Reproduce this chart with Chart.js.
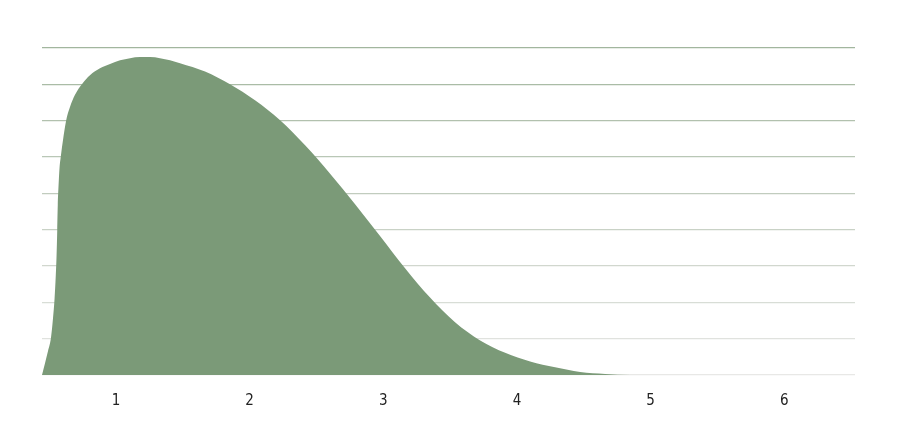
<!DOCTYPE html>
<html>
<head>
<meta charset="utf-8">
<script src="https://cdn.jsdelivr.net/npm/chart.js@4"></script>
<style>
  html, body { margin: 0; padding: 0; background: #fff; }
  #wrap { width: 897px; height: 436px; position: relative; }
</style>
</head>
<body>
<div id="wrap"><canvas id="areaChart"></canvas></div>
<script>
// curve (x value, height in grid units)
const xValues = [0.446, 0.469, 0.491, 0.513, 0.528, 0.54, 0.549, 0.555, 0.56, 0.564, 0.57, 0.577,
  0.588, 0.603, 0.626, 0.656, 0.693, 0.746, 0.805, 0.88, 0.955, 1.03, 1.105, 1.18, 1.254, 1.329,
  1.404, 1.479, 1.666, 1.853, 2.04, 2.228, 2.415, 2.602, 2.789, 2.977, 3.163, 3.35, 3.537, 3.725,
  3.912, 4.099, 4.286, 4.473, 4.66, 4.847, 6.53];
const yValues = [0, 0.33, 0.66, 1.02, 1.55, 2.1, 2.73, 3.29, 3.98, 4.67, 5.22, 5.69,
  6.05, 6.46, 6.99, 7.38, 7.71, 8.01, 8.25, 8.44, 8.56, 8.66, 8.72, 8.75, 8.75, 8.72,
  8.66, 8.58, 8.35, 8.0, 7.56, 7.01, 6.32, 5.54, 4.7, 3.82, 2.94, 2.13, 1.45, 0.95,
  0.61, 0.37, 0.21, 0.08, 0.03, 0, 0];
const tickLabels = [1, 2, 3, 4, 5, 6];

const points = xValues.map((x, i) => ({ x: x, y: yValues[i] }));

const areaChart = document.getElementById("areaChart");

new Chart(areaChart, {
    type: "line",
    data: {
        datasets: [
            {
                data: points,
                fill: "origin",
                backgroundColor: "rgb(123, 154, 120)",
                borderWidth: 0,
                pointRadius: 0,
                cubicInterpolationMode: "monotone",
            },
        ],
    },
    options: {
        animation: false,
        responsive: true,
        maintainAspectRatio: false,
        layout: {
            padding: { left: 42, right: 42, top: 48, bottom: 17 },
        },
        scales: {
            x: {
                type: "linear",
                min: 0.446,
                max: 6.53,
                grid: { display: false },
                border: { display: false },
                afterBuildTicks: (scale) => {
                    scale.ticks = tickLabels.map((v) => ({ value: v }));
                },
                ticks: {
                    padding: 9,
                    color: "#222",
                    font: { family: "'DejaVu Sans Condensed', 'DejaVu Sans', sans-serif", size: 15 },
                    callback: (v) => String(v),
                },
            },
            y: {
                min: 0,
                max: 9,
                border: { display: false },
                ticks: { display: false, stepSize: 1 },
                grid: {
                    drawTicks: false,
                    lineWidth: 1.2,
                    // lines go from light grey at the bottom to sage green at the top
                    color: (ctx) => {
                        const t = ctx.tick ? ctx.tick.value / 9 : 0;
                        const r = Math.round(232 - t * 70);
                        const g = Math.round(232 - t * 50);
                        const b = Math.round(230 - t * 72);
                        return "rgb(" + r + "," + g + "," + b + ")";
                    },
                },
            },
        },
        plugins: {
            legend: { display: false },
            tooltip: { enabled: false },
        },
    },
});
</script>
</body>
</html>
